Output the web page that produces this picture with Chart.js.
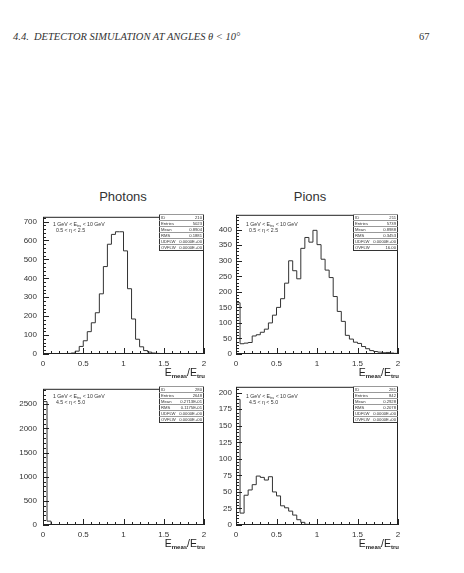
<!DOCTYPE html>
<html>
<head>
<meta charset="utf-8">
<script src="https://cdn.jsdelivr.net/npm/chart.js@4.4.0/dist/chart.umd.min.js"></script>
<style>
    body { margin: 0; width: 464px; height: 573px; background: #fff; position: relative; overflow: hidden;
           font-family: "Liberation Sans", Arial, sans-serif; color: #222; }
    .abs { position: absolute; white-space: nowrap; }
    canvas { position: absolute; }
    .hdr { font-family: "Liberation Serif", serif; font-style: italic; font-size: 10.5px; line-height: 11px; color: #333; }
    .title { font-size: 13px; line-height: 13px; color: #333; transform: translateX(-50%); }
    .axt { font-size: 10.5px; line-height: 10px; color: #222; }
    .axt sub { font-size: 6px; font-weight: bold; vertical-align: -2px; line-height: 0; }
    .note { font-size: 5.2px; line-height: 6px; color: #333; }
    .note sub { font-size: 3.5px; vertical-align: -1px; line-height: 0; }
    .stats { border-collapse: collapse; border: 0.8px solid #333; background: #fff; font-size: 4.2px; color: #333; }
    .stats td { border-top: 0.5px solid #999; height: 5px; padding: 0 1px; line-height: 5px; }
    .stats td.v { text-align: right; }
</style>
</head>
<body>
<div class="abs hdr" style="left:13px; top:31px;">4.4.&nbsp;&nbsp;DETECTOR SIMULATION AT ANGLES &theta; &lt; 10&deg;</div>
<div class="abs hdr" style="left:419px; top:31px; font-style: normal;">67</div>

<div class="abs title" style="left:123px; top:190px;">Photons</div>
<div class="abs title" style="left:310px; top:190px;">Pions</div>

<script>
// bins of 0.05 in E_meas/E_tru from 0 to 2
const binWidth = 0.05;
const xMin = 0;
const xMax = 2;
const xTicks = [0, 0.5, 1, 1.5, 2];

// photons, 0.5 < eta < 2.5 (ID 210)
const photonsCentral = [0, 0, 1, 0, 1, 1, 3, 5, 15, 40,
                        70, 118, 165, 218, 318, 462, 580, 632, 646, 646,
                        545, 345, 185, 78, 38, 18, 10, 5, 3, 2,
                        1, 1, 0, 0, 0, 0, 0, 0, 0, 0];
// pions, 0.5 < eta < 2.5 (ID 211)
const pionsCentral = [165, 33, 35, 37, 58, 62, 70, 80, 100, 125,
                      150, 178, 228, 300, 268, 242, 340, 375, 360, 398,
                      352, 305, 270, 246, 185, 137, 105, 60, 48, 38,
                      34, 24, 17, 11, 8, 6, 4, 5, 3, 2];
// photons, 4.5 < eta < 5.0 (ID 280)
const photonsForward = [2555, 80, 5, 2, 0, 0, 0, 0, 0, 0,
                        0, 0, 0, 0, 0, 0, 0, 0, 0, 0,
                        0, 0, 0, 0, 0, 0, 0, 0, 0, 0,
                        0, 0, 0, 0, 0, 0, 0, 0, 0, 0];
// pions, 4.5 < eta < 5.0 (ID 281)
const pionsForward = [190, 18, 45, 53, 61, 74, 72, 68, 73, 50,
                      44, 29, 26, 21, 15, 8, 4, 1, 0, 0,
                      0, 0, 0, 0, 0, 0, 0, 0, 0, 0,
                      0, 0, 0, 0, 0, 0, 0, 0, 0, 0];

// y axis: top of frame and labelled ticks per panel
const yMaxes = [725, 448, 2820, 209];
const yTicks210 = [0, 100, 200, 300, 400, 500, 600, 700];
const yTicks211 = [0, 50, 100, 150, 200, 250, 300, 350, 400];
const yTicks280 = [0, 500, 1000, 1500, 2000, 2500];
const yTicks281 = [0, 25, 50, 75, 100, 125, 150, 175, 200];

// stat box rows
const statLabels = ["ID", "Entries", "Mean", "RMS", "UDFLW", "OVFLW"];
const stats210 = ["210", "5023", "0.8904", "0.1881", "0.0000E+00", "0.0000E+00"];
const stats211 = ["211", "5739", "0.8988", "0.3453", "0.0000E+00", "16.00"];
const stats280 = ["280", "2648", "0.2713E-01", "0.1175E-01", "0.0000E+00", "0.0000E+00"];
const stats281 = ["281", "842", "0.2928", "0.2078", "0.0000E+00", "0.0000E+00"];

const ranges = ["0.5 &lt; &eta; &lt; 2.5", "0.5 &lt; &eta; &lt; 2.5", "4.5 &lt; &eta; &lt; 5.0", "4.5 &lt; &eta; &lt; 5.0"];

// plot areas on the page
const panels = [
    { counts: photonsCentral, stats: stats210, yTicks: yTicks210, left: 43, top: 214, right: 204, bottom: 354, labelPad: 6 },
    { counts: pionsCentral, stats: stats211, yTicks: yTicks211, left: 236, top: 214, right: 398, bottom: 354, labelPad: 4 },
    { counts: photonsForward, stats: stats280, yTicks: yTicks280, left: 43, top: 386, right: 204, bottom: 525, labelPad: 6 },
    { counts: pionsForward, stats: stats281, yTicks: yTicks281, left: 236, top: 386, right: 398, bottom: 525, labelPad: 4 }
];

// PAW style frame with inward major + minor ticks
const frameTicks = {
    id: 'frameTicks',
    afterDatasetsDraw(chart, args, opts) {
        const { ctx, chartArea: a, scales: { x, y } } = chart;
        ctx.save();
        ctx.strokeStyle = '#222';
        ctx.lineWidth = 1;
        ctx.strokeRect(a.left + 0.5, a.top + 0.5, a.right - a.left - 1, a.bottom - a.top - 1);
        ctx.beginPath();
        const xStep = xTicks[1] - xTicks[0];
        const nx = Math.round((x.max - x.min) / (xStep / 5));
        for (let i = 0; i <= nx; i++) {
            const px = Math.round(x.getPixelForValue(x.min + i * xStep / 5)) + 0.5;
            const len = i % 5 === 0 ? 6 : 3;
            ctx.moveTo(px, a.bottom);
            ctx.lineTo(px, a.bottom - len);
        }
        const yStep = opts.yTicks[1] - opts.yTicks[0];
        const ny = Math.floor(y.max / (yStep / 5));
        for (let i = 0; i <= ny; i++) {
            const py = Math.round(y.getPixelForValue(i * yStep / 5)) + 0.5;
            const len = i % 5 === 0 ? 6 : 3;
            ctx.moveTo(a.left, py);
            ctx.lineTo(a.left + len, py);
        }
        ctx.stroke();
        ctx.restore();
    }
};

function histPoints(counts) {
    const pts = [{ x: xMin, y: 0 }];
    counts.forEach((c, i) => pts.push({ x: xMin + i * binWidth, y: c }));
    pts.push({ x: xMin + counts.length * binWidth, y: counts[counts.length - 1] });
    pts.push({ x: xMin + counts.length * binWidth, y: 0 });
    return pts;
}

function createHistChart(p, idx) {
    const padL = 40, padT = 8, padR = 10, padB = 20;
    const canvas = document.createElement('canvas');
    canvas.width = p.right - p.left + padL + padR;
    canvas.height = p.bottom - p.top + padT + padB;
    canvas.style.left = (p.left - padL) + 'px';
    canvas.style.top = (p.top - padT) + 'px';
    document.body.appendChild(canvas);

    const tickFont = { family: '"Liberation Sans", Arial, sans-serif', size: 8 };
    return new Chart(canvas.getContext('2d'), {
        type: 'line',
        data: {
            datasets: [{
                data: histPoints(p.counts),
                stepped: true,
                borderColor: '#333',
                borderWidth: 1,
                pointRadius: 0,
                fill: false
            }]
        },
        options: {
            responsive: false,
            animation: false,
            layout: { padding: { left: 0, top: padT, right: padR, bottom: 0 } },
            plugins: {
                legend: { display: false },
                tooltip: { enabled: false },
                frameTicks: { yTicks: p.yTicks }
            },
            scales: {
                x: {
                    type: 'linear',
                    min: xMin,
                    max: xMax,
                    grid: { display: false, drawTicks: false },
                    border: { display: false },
                    ticks: { font: tickFont, color: '#333', padding: 5, maxRotation: 0, callback: v => String(v) },
                    afterBuildTicks: (scale) => { scale.ticks = xTicks.map(v => ({ value: v })); },
                    afterFit: (scale) => { scale.height = padB; }
                },
                y: {
                    min: 0,
                    max: yMaxes[idx],
                    grid: { display: false, drawTicks: false },
                    border: { display: false },
                    ticks: { font: tickFont, color: '#333', padding: p.labelPad, callback: v => String(v) },
                    afterBuildTicks: (scale) => { scale.ticks = p.yTicks.map(v => ({ value: v })); },
                    afterFit: (scale) => { scale.width = padL; }
                }
            }
        },
        plugins: [frameTicks]
    });
}

function addOverlays(p, idx) {
    // cut annotation
    const note = document.createElement('div');
    note.className = 'abs note';
    note.style.left = (p.left + 10) + 'px';
    note.style.top = (p.top + 7) + 'px';
    note.innerHTML = '1 GeV &lt; E<sub>tru</sub> &lt; 10 GeV<br>&nbsp;&nbsp;' + ranges[idx];
    document.body.appendChild(note);

    // stat box
    const table = document.createElement('table');
    table.className = 'abs stats';
    table.style.left = (p.right - 45) + 'px';
    table.style.top = p.top + 'px';
    table.style.width = '45px';
    statLabels.forEach((label, i) => {
        const row = table.insertRow();
        row.insertCell().textContent = label;
        const v = row.insertCell();
        v.className = 'v';
        v.textContent = p.stats[i];
    });
    document.body.appendChild(table);

    // x axis title
    const axt = document.createElement('div');
    axt.className = 'abs axt';
    axt.style.right = (464 - p.right - 1) + 'px';
    axt.style.top = (p.bottom + 13) + 'px';
    axt.innerHTML = 'E<sub>meas</sub>/E<sub>tru</sub>';
    document.body.appendChild(axt);
}

panels.forEach((p, i) => {
    createHistChart(p, i);
    addOverlays(p, i);
});
</script>
</body>
</html>
